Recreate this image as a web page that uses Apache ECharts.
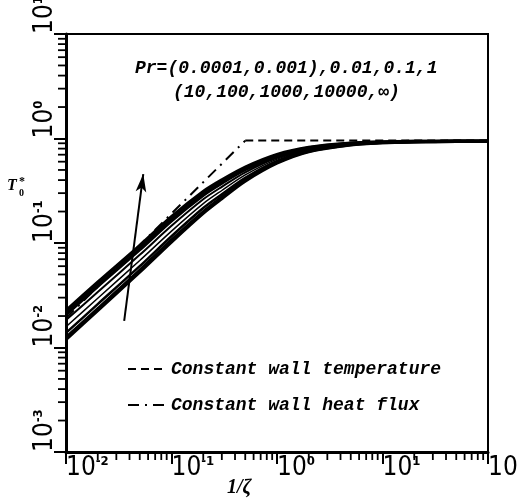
<!DOCTYPE html>
<html>
<head>
<meta charset="utf-8">
<script src="https://cdn.jsdelivr.net/npm/echarts@6/dist/echarts.min.js"></script>
<style>html,body{margin:0;padding:0;background:#fff;}#c{width:518px;height:500px;}</style>
</head>
<body>
<div id="c"></div>
<script>
// ---- data ----
const xVals = [0.01, 0.02, 0.05, 0.1, 0.2, 0.3, 0.5, 1, 2, 5, 10, 20, 50, 100];
const prNames = ['Pr=0.0001', 'Pr=0.001', 'Pr=0.01', 'Pr=0.1', 'Pr=1', 'Pr=10..100', 'Pr=1000..∞'];
const curvePr0001 = [0.0225, 0.042, 0.094, 0.178, 0.31, 0.40, 0.53, 0.70, 0.82, 0.90, 0.925, 0.935, 0.94, 0.94];
const curvePr001  = [0.0207, 0.0387, 0.0866, 0.164, 0.288, 0.375, 0.505, 0.68, 0.81, 0.895, 0.922, 0.934, 0.94, 0.94];
const curvePr01   = [0.0183, 0.034, 0.077, 0.146, 0.262, 0.345, 0.475, 0.655, 0.795, 0.89, 0.92, 0.933, 0.94, 0.94];
const curvePr1    = [0.0158, 0.0296, 0.068, 0.13, 0.238, 0.318, 0.448, 0.635, 0.783, 0.885, 0.918, 0.932, 0.94, 0.94];
const curvePr10   = [0.0138, 0.026, 0.060, 0.116, 0.216, 0.292, 0.42, 0.61, 0.768, 0.878, 0.915, 0.93, 0.94, 0.94];
const curvePr100  = [0.0125, 0.0236, 0.055, 0.107, 0.20, 0.275, 0.40, 0.59, 0.755, 0.872, 0.912, 0.93, 0.94, 0.94];
const curvePrInf  = [0.0119, 0.0225, 0.0525, 0.102, 0.192, 0.265, 0.39, 0.58, 0.748, 0.868, 0.91, 0.928, 0.94, 0.94];
const wallTempX = [0.5, 100];
const wallTempY = [0.955, 0.955];
const heatFluxX = [0.01, 0.5];
const heatFluxY = [0.0191, 0.955];
const arrowStart = [0.0356, 0.018];
const arrowEnd = [0.054, 0.457];
const xTickExps = [-2, -1, 0, 1, 2];
const yTickExps = [-3, -2, -1, 0, 1];
const annotLine1 = 'Pr=(0.0001,0.001),0.01,0.1,1';
const annotLine2 = '(10,100,1000,10000,\u221e)';
const legendNames = ['Constant wall temperature', 'Constant wall heat flux'];

const curves = [curvePr0001, curvePr001, curvePr01, curvePr1, curvePr10, curvePr100, curvePrInf];
const widths = [3.5, 3.5, 2, 1.5, 2.5, 3, 3];

const pairs = (xs, ys) => xs.map((x, i) => [x, ys[i]]);

// minor tick positions (log 2..9 within each decade)
const minorX = [], minorY = [];
for (let d = xTickExps[0]; d < xTickExps[xTickExps.length - 1]; d++)
  for (let m = 2; m <= 9; m++) minorX.push([m * Math.pow(10, d), Math.pow(10, yTickExps[0])]);
for (let d = yTickExps[0]; d < yTickExps[yTickExps.length - 1]; d++)
  for (let m = 2; m <= 9; m++) minorY.push([Math.pow(10, xTickExps[0]), m * Math.pow(10, d)]);

const labelFmt = v => '{a|10}{b|' + Math.round(Math.log10(v)) + '}';
const numFont = '"Liberation Sans Narrow","DejaVu Sans Condensed","Liberation Sans",sans-serif';
const richLab = {
  a: { fontFamily: numFont, fontSize: 26, color: '#000', lineHeight: 26 },
  b: { fontFamily: numFont, fontSize: 13, fontWeight: 'bold', color: '#000', verticalAlign: 'top', lineHeight: 26 }
};
const monoFont = 'italic bold 18px "Liberation Mono", monospace';

const series = [];
series.push({
  name: legendNames[0], type: 'line', data: pairs(wallTempX, wallTempY), symbol: 'none', legendIcon: 'none',
  itemStyle: { color: '#000' },
  lineStyle: { color: '#000', width: 2, type: [8, 5] }, z: 1
});
series.push({
  name: legendNames[1], type: 'line', data: pairs(heatFluxX, heatFluxY), symbol: 'none', legendIcon: 'none',
  itemStyle: { color: '#000' },
  lineStyle: { color: '#000', width: 2, type: [11, 6, 2, 6] }, z: 1
});
curves.forEach((c, i) => series.push({
  name: prNames[i], type: 'line', data: pairs(xVals, c), symbol: 'none', smooth: 0.3,
  lineStyle: { color: '#000', width: widths[i] }, z: 2
}));
series.push({
  type: 'line', data: [], symbol: 'none', silent: true,
  markLine: {
    silent: true, symbol: ['none', 'arrow'], symbolSize: [8, 18], animation: false,
    label: { show: false }, lineStyle: { color: '#000', width: 2, type: 'solid' },
    data: [[{ coord: arrowStart }, { coord: arrowEnd }]]
  }
});
const tickRender = (dx, dy) => (params, api) => {
  const p = api.coord([api.value(0), api.value(1)]);
  return { type: 'line', shape: { x1: p[0], y1: p[1], x2: p[0] + dx, y2: p[1] + dy },
           style: { stroke: '#000', lineWidth: 1.8 } };
};
series.push({ type: 'custom', data: minorX, renderItem: tickRender(0, 8), clip: false, silent: true, z: 5 });
series.push({ type: 'custom', data: minorY, renderItem: tickRender(-8, 0), clip: false, silent: true, z: 5 });

const chart = echarts.init(document.getElementById('c'));
chart.setOption({
  backgroundColor: '#fff',
  animation: false,
  grid: { left: 66, right: 30, top: 34, bottom: 48, containLabel: false, outerBoundsMode: 'none',
          show: true, borderColor: '#000', borderWidth: 2, backgroundColor: 'transparent' },
  legend: {
    data: legendNames, orient: 'vertical', left: 122, top: 355, itemWidth: 38, itemHeight: 14, itemGap: 18,
    itemStyle: { opacity: 0, borderWidth: 0 },
    textStyle: { fontFamily: '"Liberation Mono", monospace', fontStyle: 'italic', fontWeight: 'bold', fontSize: 18, color: '#000' },
    selectedMode: false
  },
  xAxis: {
    type: 'log', logBase: 10, min: Math.pow(10, xTickExps[0]), max: Math.pow(10, xTickExps[xTickExps.length - 1]),
    axisLine: { show: true, lineStyle: { color: '#000', width: 3 } },
    axisTick: { show: true, length: 12, lineStyle: { color: '#000', width: 2 } },
    splitLine: { show: false },
    axisLabel: { formatter: labelFmt, rich: richLab, align: 'left', margin: 3, showMinLabel: true, showMaxLabel: true, hideOverlap: false }
  },
  yAxis: {
    type: 'log', logBase: 10, min: Math.pow(10, yTickExps[0]), max: Math.pow(10, yTickExps[yTickExps.length - 1]),
    axisLine: { show: true, lineStyle: { color: '#000', width: 3 } },
    axisTick: { show: true, length: 12, lineStyle: { color: '#000', width: 2 } },
    splitLine: { show: false },
    axisLabel: { formatter: labelFmt, rich: richLab, rotate: 90, align: 'left', verticalAlign: 'bottom', margin: 8, showMinLabel: true, showMaxLabel: true, hideOverlap: false }
  },
  graphic: [
    { type: 'text', left: 135, top: 59, style: { text: annotLine1, font: monoFont, fill: '#000' } },
    { type: 'text', left: 173, top: 83, style: { text: annotLine2, font: monoFont, fill: '#000' } },
    { type: 'text', left: 227, top: 478, style: { text: '1/\u03b6', font: 'italic bold 20px "Liberation Serif", serif', fill: '#000' } },
    { type: 'text', left: 7, top: 178, style: { text: 'T', font: 'italic bold 16px "Liberation Serif", serif', fill: '#000' } },
    { type: 'text', left: 19, top: 176, style: { text: '*', font: 'bold 12px "Liberation Serif", serif', fill: '#000' } },
    { type: 'text', left: 19, top: 188, style: { text: '0', font: 'bold 10px "Liberation Serif", serif', fill: '#000' } }
  ],
  series: series
});
</script>
</body>
</html>
